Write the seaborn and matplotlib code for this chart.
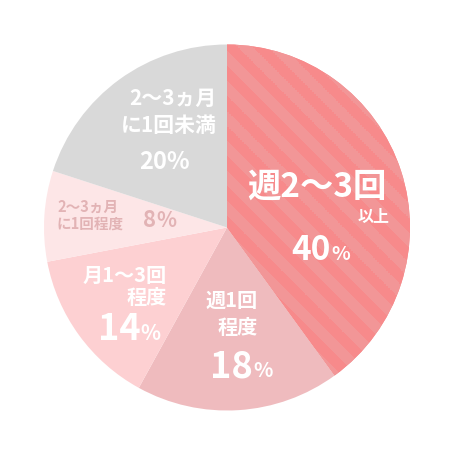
import numpy as np
import matplotlib
matplotlib.use("Agg")
import matplotlib.pyplot as plt
import seaborn as sns

# data
labels = ["週2〜3回以上", "週1回程度", "月1〜3回程度", "2〜3ヵ月に1回程度", "2〜3ヵ月に1回未満"]
shares = [40, 18, 14, 8, 20]
colors = ["#F78A8B", "#EFBBBE", "#FDD0D2", "#FDE6E7", "#D9D9D9"]
stripe_color = "#F29697"

sns.set_theme(style="white")
plt.rcParams["font.family"] = ["Noto Sans CJK JP", "DejaVu Sans"]

W = 451
CX, CY, R = 227, 227.5, 183  # pie centre / radius in pixels


def px(x, y):
    # pixel position -> data coords of the unit pie
    return (x - CX) / R, (CY - y) / R


fig = plt.figure(figsize=(4.51, 4.51), dpi=100)
ax = fig.add_axes([0, 0, 1, 1])
wedges, _ = ax.pie(shares, colors=colors, startangle=90, counterclock=False,
                   radius=1, wedgeprops=dict(linewidth=0))
x0, y1 = px(0, 0)
x1, y0 = px(W, W)
ax.set_xlim(x0, x1)
ax.set_ylim(y0, y1)
ax.set_aspect("equal")
ax.axis("off")

# diagonal stripes on the first slice
gx, gy = np.meshgrid(np.linspace(-1, 1, 900), np.linspace(-1, 1, 900))
period = 30 / R
band = (np.floor((gx + gy + 0.02) / (period / 2)) % 2)
cmap = matplotlib.colors.ListedColormap([colors[0], stripe_color])
im = ax.imshow(band, extent=(-1, 1, -1, 1), origin="lower", cmap=cmap,
               interpolation="nearest", zorder=3)
im.set_clip_path(wedges[0])

white = "white"
pink = "#E2B3B5"


def txt(x, y, s, size, color=white, ha="center", va="center", weight="bold"):
    ax.text(*px(x, y), s, fontsize=size, color=color, ha=ha, va=va,
            fontweight=weight, zorder=5)


# 40%
txt(387, 187, "週2〜3回", 24, ha="right")
txt(390, 217, "以上", 11.5, ha="right")
txt(331, 260, "40", 24, ha="right", va="baseline")
txt(331, 260, "%", 14, ha="left", va="baseline")

# 18%
txt(258, 300, "週1回", 14.5, ha="right")
txt(258, 328, "程度", 14.5, ha="right")
txt(253, 377, "18", 26, ha="right", va="baseline")
txt(253, 377, "%", 14.5, ha="left", va="baseline")

# 14%
txt(167, 275, "月1〜3回", 14.5, ha="right")
txt(167, 298, "程度", 14.5, ha="right")
txt(141, 340, "14", 26, ha="right", va="baseline")
txt(140, 340, "%", 15, ha="left", va="baseline")

# 8%
txt(57, 207, "2〜3ヵ月", 10.5, color=pink, ha="left")
txt(57, 224, "に1回程度", 10.5, color=pink, ha="left")
txt(156, 227, "8", 16, color=pink, ha="right", va="baseline")
txt(156, 227, "%", 15, color=pink, ha="left", va="baseline")

# 20%
txt(164, 169, "20%", 17, va="baseline")
txt(217, 98, "2〜3ヵ月", 15, ha="right")
txt(217, 125, "に1回未満", 15, ha="right")

fig.savefig("out.png", dpi=100, facecolor="white")
